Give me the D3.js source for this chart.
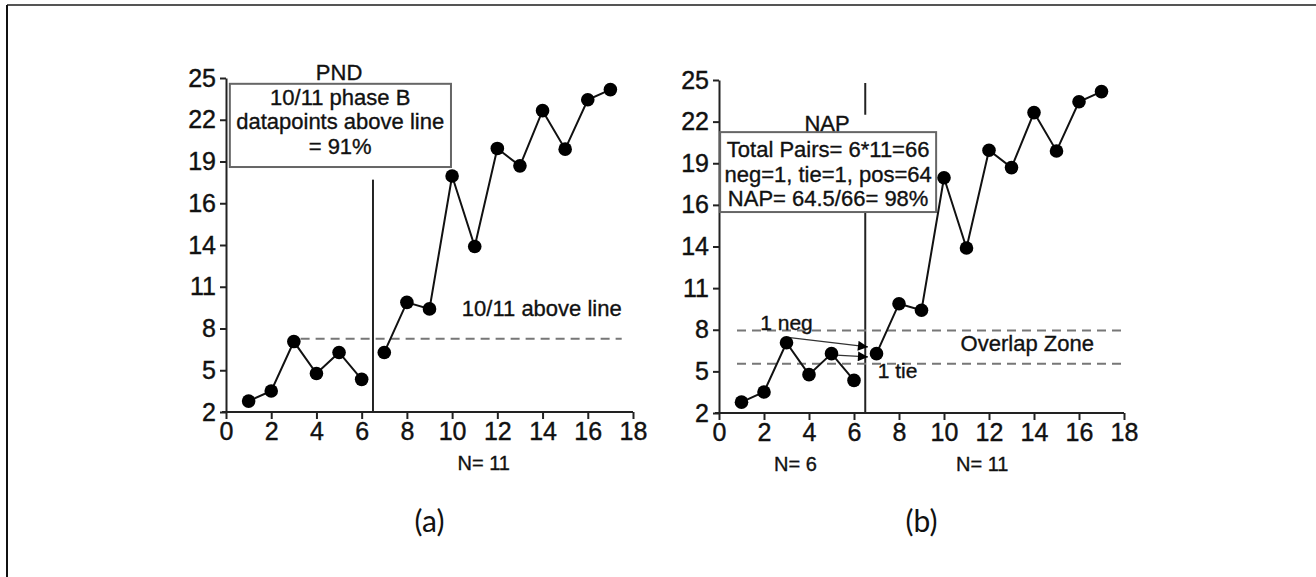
<!DOCTYPE html>
<html>
<head>
<meta charset="utf-8">
<script src="https://cdn.jsdelivr.net/npm/d3@7"></script>
<style>
  html, body { margin: 0; padding: 0; background: #fff; }
  svg { display: block; }
  text { paint-order: stroke; }
</style>
</head>
<body>
<script>
const width = 1316
const height = 577

// session numbers and scores (same series in both panels)
const sessions = [1, 2, 3, 4, 5, 6, 7, 8, 9, 10, 11, 12, 13, 14, 15, 16, 17]
const scores = [2.75, 3.45, 6.85, 4.65, 6.1, 4.25, 6.1, 9.55, 9.1, 18.25, 13.4, 20.15, 18.95, 22.75, 20.1, 23.5, 24.2]
const phaseChange = 6.5

const xTicks = [0, 2, 4, 6, 8, 10, 12, 14, 16, 18]
const yTickLabels = ["2", "5", "8", "11", "14", "16", "19", "22", "25"]
const yMin = 2
const yMax = 25

// annotation values
const pndLevel = 7.05
const overlapTop = 7.7
const overlapBottom = 5.4

const panels = [
  {id: "a", x0: 226, x18: 633, yBottom: 412, yTop: 78},
  {id: "b", x0: 719, x18: 1124, yBottom: 413, yTop: 80}
]

const svg = d3.select("body").append("svg").attr("width", width).attr("height", height)
  .style("font-family", "'Liberation Sans', Arial, sans-serif")

// page frame
svg.append("line").attr("x1", 7).attr("x2", width).attr("y1", 5).attr("y2", 5).attr("stroke", "#555").attr("stroke-width", 2)
svg.append("line").attr("x1", 7).attr("x2", 7).attr("y1", 5).attr("y2", height).attr("stroke", "#111").attr("stroke-width", 2)

const defs = svg.append("defs")
defs.append("marker").attr("id", "arrow").attr("viewBox", "0 0 10 10").attr("refX", 10).attr("refY", 5)
  .attr("markerWidth", 12).attr("markerHeight", 10).attr("markerUnits", "userSpaceOnUse").attr("orient", "auto")
  .append("path").attr("d", "M0,0L10,5L0,10Z").attr("fill", "#000")

const yTickValues = yTickLabels.map((d, i) => yMin + (i * (yMax - yMin)) / (yTickLabels.length - 1))

function drawPanel(p) {
  const x = d3.scaleLinear().domain([0, 18]).range([p.x0, p.x18])
  const y = d3.scaleLinear().domain([yMin, yMax]).range([p.yBottom, p.yTop])
  const g = svg.append("g")

  const xAxis = g.append("g").attr("transform", `translate(0,${p.yBottom})`)
    .call(d3.axisBottom(x).tickValues(xTicks).tickSize(7).tickPadding(3).tickSizeOuter(0))
  const yAxis = g.append("g").attr("transform", `translate(${p.x0},0)`)
    .call(d3.axisLeft(y).tickValues(yTickValues).tickFormat((d, i) => yTickLabels[i]).tickSize(6).tickPadding(4).tickSizeOuter(0))
  for (const ax of [xAxis, yAxis]) {
    ax.select(".domain").attr("stroke", "#222").attr("stroke-width", 2)
    ax.selectAll(".tick line").attr("stroke", "#222").attr("stroke-width", 2)
    ax.selectAll("text").attr("font-size", 25).attr("fill", "#111").attr("stroke", "#111").attr("stroke-width", 0.4)
      .attr("font-family", "'Liberation Sans', Arial, sans-serif")
  }
  xAxis.select(".domain").attr("d", `M${x(0) - 4},0H${x(18)}`)

  const dash = (yv, xa, xb) => g.append("line")
    .attr("x1", x(xa)).attr("x2", x(xb)).attr("y1", y(yv)).attr("y2", y(yv))
    .attr("stroke", "#777").attr("stroke-width", 2).attr("stroke-dasharray", "9,6")

  const text = (t, xv, yv, size, anchor) => g.append("text").attr("x", x(xv)).attr("y", y(yv))
    .attr("text-anchor", anchor || "middle").attr("font-size", size).attr("fill", "#111")
    .attr("stroke", "#111").attr("stroke-width", 0.35).text(t)

  if (p.id === "a") {
    g.append("line").attr("x1", x(phaseChange)).attr("x2", x(phaseChange)).attr("y1", y(18)).attr("y2", y(yMin))
      .attr("stroke", "#222").attr("stroke-width", 2)
    dash(pndLevel, 3.3, 17.5)
    text("10/11 above line", 17.5, 8.6, 22, "end")
    // info box
    const bx0 = 0.17, bx1 = 9.95, by0 = 24.6, by1 = 18.87
    g.append("rect").attr("x", x(bx0)).attr("y", y(by0)).attr("width", x(bx1) - x(bx0)).attr("height", y(by1) - y(by0))
      .attr("fill", "#fff").attr("stroke", "#666").attr("stroke-width", 2)
    text("PND", 5.0, 24.88, 22)
    const lines = ["10/11 phase B", "datapoints above line", "= 91%"]
    lines.forEach((l, i) => g.append("text").attr("x", x(5.05)).attr("y", y(by0) + 21 + i * 24.5)
      .attr("text-anchor", "middle").attr("font-size", 22).attr("fill", "#111")
      .attr("stroke", "#111").attr("stroke-width", 0.35).text(l))
    text("N= 11", 11.4, -2.0, 20)
  } else {
    g.append("line").attr("x1", x(phaseChange)).attr("x2", x(phaseChange)).attr("y1", y(24.8)).attr("y2", y(yMin))
      .attr("stroke", "#222").attr("stroke-width", 2)
    dash(overlapTop, 0.8, 18)
    dash(overlapBottom, 0.8, 18)
    text("1 neg", 3.0, 7.75, 21)
    text("1 tie", 7.05, 4.45, 21, "start")
    text("Overlap Zone", 13.7, 6.3, 22)
    // arrows from baseline points to the overlap
    const arrows = [[3.15, 7.2, 6.62, 6.56], [5.2, 6.0, 6.62, 5.87]]
    g.selectAll(".arr").data(arrows).join("line").attr("class", "arr")
      .attr("x1", (d) => x(d[0])).attr("y1", (d) => y(d[1])).attr("x2", (d) => x(d[2])).attr("y2", (d) => y(d[3]))
      .attr("stroke", "#333").attr("stroke-width", 1.3).attr("marker-end", "url(#arrow)")
    // title with white background
    g.append("rect").attr("x", x(3.3)).attr("y", y(22.6)).attr("width", x(9.9) - x(3.3)).attr("height", y(21.4) - y(22.6)).attr("fill", "#fff")
    const bx0 = 0.05, bx1 = 9.65, by0 = 21.4, by1 = 15.88
    g.append("rect").attr("x", x(bx0)).attr("y", y(by0)).attr("width", x(bx1) - x(bx0)).attr("height", y(by1) - y(by0))
      .attr("fill", "#fff").attr("stroke", "#666").attr("stroke-width", 2)
    text("NAP", 4.8, 21.45, 22)
    const lines = ["Total Pairs= 6*11=66", "neg=1, tie=1, pos=64", "NAP= 64.5/66= 98%"]
    lines.forEach((l, i) => g.append("text").attr("x", x(4.85)).attr("y", y(by0) + 25 + i * 24.5)
      .attr("text-anchor", "middle").attr("font-size", 22).attr("fill", "#111")
      .attr("stroke", "#111").attr("stroke-width", 0.35).text(l))
    text("N= 6", 3.4, -2.0, 20)
    text("N= 11", 11.7, -2.0, 20)
  }

  // series line and markers
  const pts = sessions.map((s, i) => [s, scores[i]])
  const line = d3.line().x((d) => x(d[0])).y((d) => y(d[1]))
  g.append("path").datum(pts.slice(0, 6)).attr("d", line).attr("fill", "none").attr("stroke", "#111").attr("stroke-width", 2)
  g.append("path").datum(pts.slice(6)).attr("d", line).attr("fill", "none").attr("stroke", "#111").attr("stroke-width", 2)
  g.selectAll("circle").data(pts).join("circle")
    .attr("cx", (d) => x(d[0])).attr("cy", (d) => y(d[1])).attr("r", 6.8).attr("fill", "#000")

  svg.append("text").attr("x", x(9)).attr("y", 532).attr("text-anchor", "middle")
    .attr("font-family", "Lato, 'Open Sans', sans-serif").attr("font-size", 30).attr("fill", "#111").text(`(${p.id})`)
}

panels.forEach(drawPanel)
</script>
</body>
</html>
